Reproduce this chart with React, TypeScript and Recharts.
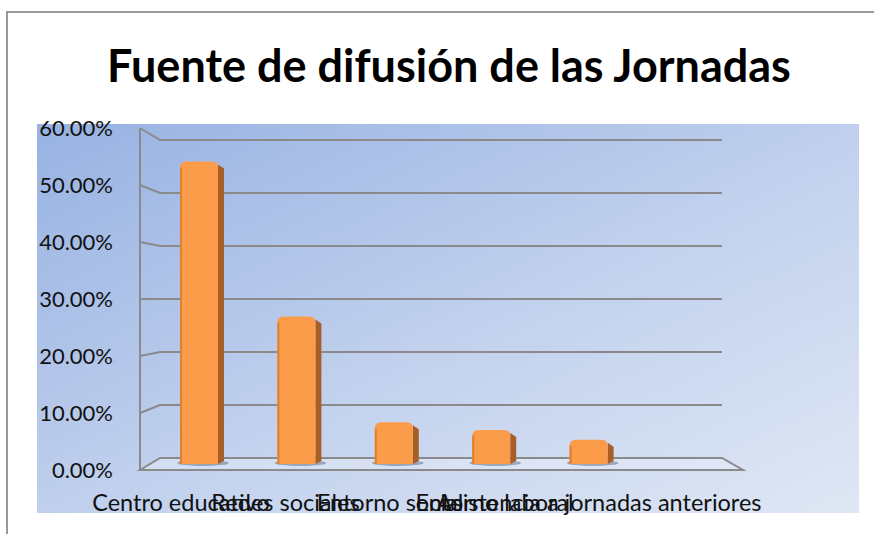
import { BarChart, Bar, XAxis, YAxis, CartesianGrid } from 'recharts';

const categories = [
  'Centro educativo',
  'Redes sociales',
  'Entorno social',
  'Entorno laboral',
  'Asistencia a jornadas anteriores',
];
const shares = [0.55, 0.268, 0.076, 0.062, 0.044];
const yTicks = [0, 0.1, 0.2, 0.3, 0.4, 0.5, 0.6];

const data = categories.map((name, i) => ({ name, value: shares[i] }));

// plot box (middle depth of the fake 3d box)
const W = 874;
const H = 534;
const PLOT_TOP = 134;
const PLOT_BOTTOM = 464;
const PLOT_LEFT = 150;
const PLOT_RIGHT = 722;
const MID = (PLOT_TOP + PLOT_BOTTOM) / 2;
const toBack = (y: number) => MID + (y - MID) * (53 / 55);
const toFront = (y: number) => MID + (y - MID) * (57 / 55);
const toFrontX = (x: number) => 441 + (x - 441) * 1.073;

const FONT = 'Lato, "Open Sans", sans-serif';
const GRID = '#8a8a8a';
const fmt = (v: number) => `${(v * 100).toFixed(2)}%`;

function GridLine(props: any) {
  const { x1, x2, y1 } = props;
  const yb = toBack(y1);
  const yf = toFront(y1);
  const wallX = x1 - 10;
  const backX = x1 + 10;
  if (y1 > PLOT_BOTTOM - 1) {
    const topF = toFront(2 * MID - y1);
    return (
      <g key={`floor-${y1}`}>
        <path
          d={`M${wallX} ${yf} L${backX} ${yb} L${x2} ${yb} L${x2 + 21} ${yf} Z`}
          fill="rgba(235,240,250,0.45)"
          stroke={GRID}
          strokeWidth={2}
        />
        <line x1={wallX} y1={yf} x2={wallX} y2={topF} stroke={GRID} strokeWidth={2} />
      </g>
    );
  }
  return (
    <path
      key={`grid-${y1}`}
      d={`M${wallX} ${yf} L${backX} ${yb} L${x2} ${yb}`}
      fill="none"
      stroke={GRID}
      strokeWidth={2}
    />
  );
}

function YTick(props: any) {
  const { x, y, payload } = props;
  return (
    <text x={x} y={toFront(y)} dy="0.36em" textAnchor="end" fontFamily={FONT} fontSize={22} fill="#111">
      {fmt(payload.value)}
    </text>
  );
}

function XTick(props: any) {
  const { x, y, payload } = props;
  return (
    <text x={toFrontX(x)} y={y + 47} textAnchor="middle" fontFamily={FONT} fontSize={23.5} fill="#111">
      {payload.value}
    </text>
  );
}

function Bar3D(props: any) {
  const { x, y, width, height } = props;
  if (!height || height <= 0) return null;
  const side = 6;
  const r = 6;
  const bottom = y + height;
  return (
    <g>
      <ellipse cx={x + width / 2 + 4} cy={bottom - 1} rx={width * 0.68} ry={3} fill="rgba(60,75,105,0.4)" />
      <path
        d={`M${x + width} ${y + 3} L${x + width + side} ${y + 7} L${x + width + side} ${bottom - 3} L${x + width} ${bottom} Z`}
        fill="#a85f27"
      />
      <path
        d={`M${x} ${bottom} L${x} ${y + r} Q${x} ${y} ${x + r} ${y} L${x + width - r} ${y} Q${x + width} ${y} ${x + width} ${y + r} L${x + width} ${bottom} Z`}
        fill="#fb9c4a"
      />
      <rect x={x} y={y + r} width={2} height={height - r} fill="#e0802f" />
    </g>
  );
}

export default function App() {
  return (
    <div style={{ position: 'absolute', left: 0, top: 0, width: W, height: H, background: '#fff', overflow: 'hidden' }}>
      <div
        style={{
          position: 'absolute',
          left: 6,
          top: 11,
          width: 1000,
          height: 1000,
          borderLeft: '2px solid #9a9a9a',
          borderTop: '2px solid #9a9a9a',
        }}
      />
      <div
        style={{
          position: 'absolute',
          left: 37,
          top: 124,
          width: 822,
          height: 389,
          background: 'linear-gradient(to bottom right, #97b2e2, #c3d2ee 55%, #dfe7f4)',
        }}
      />
      <div
        style={{
          position: 'absolute',
          left: 0,
          top: 38,
          width: 898,
          textAlign: 'center',
          fontFamily: FONT,
          fontWeight: 700,
          fontSize: 45,
          lineHeight: '54px',
          color: '#000',
        }}
      >
        Fuente de difusión de las Jornadas
      </div>
      <div style={{ position: 'absolute', left: 0, top: 0 }}>
        <BarChart
          width={W}
          height={H}
          data={data}
          margin={{ top: PLOT_TOP, right: W - PLOT_RIGHT, bottom: 0, left: 0 }}
        >
          <CartesianGrid vertical={false} horizontal={GridLine} />
          <XAxis
            dataKey="name"
            height={H - PLOT_BOTTOM}
            axisLine={false}
            tickLine={false}
            tickSize={0}
            tickMargin={0}
            padding={{ left: 0, right: 85 }}
            interval={0}
            tick={XTick}
          />
          <YAxis
            width={PLOT_LEFT}
            domain={[0, 0.6]}
            ticks={yTicks}
            axisLine={false}
            tickLine={false}
            tickSize={0}
            tickMargin={37}
            tick={YTick}
          />
          <Bar dataKey="value" barSize={38} shape={Bar3D} isAnimationActive={false} />
        </BarChart>
      </div>
    </div>
  );
}
